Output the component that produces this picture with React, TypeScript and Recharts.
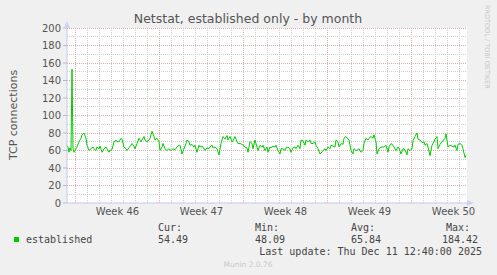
import { LineChart, Line, XAxis, YAxis, CartesianGrid, ReferenceLine } from "recharts";

// hours since the left edge of the graph (Sun Nov 9, ~07:00)
const sampleHours = [
  0, 2, 4, 6, 8, 10, 12, 14, 18, 20, 24, 28, 30, 34, 38, 40, 44, 48, 52, 54, 58, 60, 64, 66, 70, 74, 78, 80, 84, 86,
  90, 94, 98, 100, 104, 108, 110, 114, 118, 120, 124, 128, 130, 134, 136, 140, 144, 148, 150, 154, 156, 160, 164, 166,
  170, 174, 176, 180, 184, 186, 190, 192, 196, 200, 204, 208, 212, 216, 220, 224, 226, 230, 234, 238, 240, 244, 246,
  250, 254, 256, 260, 264, 266, 270, 272, 276, 280, 284, 286, 290, 292, 296, 300, 304, 308, 312, 316, 320, 322, 326,
  330, 332, 336, 340, 342, 346, 350, 352, 356, 360, 362, 366, 370, 372, 376, 380, 382, 386, 390, 392, 396, 400, 402,
  406, 408, 412, 416, 418, 422, 426, 428, 432, 436, 438, 442, 446, 448, 452, 456, 458, 462, 466, 468, 472, 476, 478,
  482, 486, 488, 492, 496, 498, 502, 506, 508, 512, 516, 518, 522, 526, 528, 532, 536, 538, 542, 544, 548, 552, 554,
  558, 562, 564, 568, 572, 574, 578, 582, 584, 588, 592, 594, 598, 602, 604, 608, 612, 614, 618, 620, 624, 628, 634,
  638, 642, 644, 648, 652, 654, 658, 662, 664, 668, 672, 674, 678, 680, 682, 686, 690, 692, 696, 700, 702, 706, 710,
  714, 716, 720, 722, 726, 730, 734, 736, 740, 742, 746, 750, 752, 756, 758, 762, 766, 770, 774, 776, 780, 782, 786,
  790, 792, 796, 798,
];

const established = [
  66, 64, 58, 63, 60, 153, 62, 58, 62, 64, 70, 74, 78, 80, 74, 66, 60, 62, 64, 62, 60, 64, 62, 65, 58, 62, 64, 62, 58, 60,
  61, 70, 72, 70, 70, 74, 73, 64, 62, 60, 63, 66, 68, 65, 62, 68, 74, 70, 72, 76, 72, 70, 72, 74,
  82, 76, 72, 74, 70, 60, 64, 68, 62, 60, 62, 60, 62, 61, 64, 66, 66, 56, 62, 68, 72, 70, 66,
  67, 64, 66, 58, 66, 64, 65, 64, 60, 63, 62, 64, 66, 63, 64, 62, 55, 68, 76, 73, 77, 72, 76,
  70, 71, 76, 70, 68, 68, 67, 66, 64, 63, 58, 70, 68, 62, 72, 64, 60, 66, 64, 66, 60, 64, 58,
  64, 63, 65, 64, 66, 60, 56, 62, 62, 60, 63, 64, 62, 58, 63, 64, 62, 66, 62, 72, 71, 66, 72,
  70, 72, 68, 68, 70, 66, 62, 56, 57, 60, 62, 60, 64, 62, 66, 65, 64, 72, 70, 64, 68, 67, 74,
  76, 73, 72, 60, 56, 62, 60, 61, 62, 58, 60, 68, 74, 72, 74, 76, 74, 78, 70, 56, 62, 64, 64,
  66, 58, 64, 68, 66, 64, 60, 64, 63, 56, 62, 62, 58, 55, 62, 60, 62, 71, 76, 80, 73, 72, 69,
  70, 66, 68, 64, 54, 66, 70, 73, 76, 62, 67, 70, 71, 74, 79, 64, 66, 65, 64, 66, 60, 67, 68,
  66, 62, 52, 54.49,
];

const weekLabels = ["Week 46", "Week 47", "Week 48", "Week 49", "Week 50"];
const weekMidHours = [101, 269, 437, 605, 773];
const weekStartHours = [17, 185, 353, 521, 689];
const dayHours = [41, 65, 89, 113, 137, 161, 209, 233, 257, 281, 305, 329, 377, 401, 425, 449, 473, 497, 545, 569, 593, 617, 641, 665, 713, 737, 761, 785];
const yTicks = [0, 20, 40, 60, 80, 100, 120, 140, 160, 180, 200];
const yMinor = [10, 30, 50, 70, 90, 110, 130, 150, 170, 190];

const legendStats = [
  { label: "Cur:", value: "54.49" },
  { label: "Min:", value: "48.09" },
  { label: "Avg:", value: "65.84" },
  { label: "Max:", value: "184.42" },
];

const data = sampleHours.map((h, i) => ({ h, v: established[i] }));

const sans = "DejaVu Sans, sans-serif";
const mono = "DejaVu Sans Mono, monospace";
const minorGrid = "#cfcfcf";
const majorGrid = "#e6acac";

export default function App() {
  return (
    <div style={{ position: "absolute", left: 0, top: 0, width: 497, height: 275, background: "#f0f0f0" }}>
      <LineChart width={497} height={275} data={data} margin={{ top: 28, right: 30, bottom: 52, left: 0 }}>
        <CartesianGrid
          fill="#ffffff"
          stroke={minorGrid}
          strokeDasharray="1 1"
          shapeRendering="crispEdges"
          horizontal={false}
          verticalValues={dayHours}
        />
        {yMinor.map((y) => (
          <ReferenceLine key={y} y={y} stroke={minorGrid} strokeDasharray="1 1" shapeRendering="crispEdges" ifOverflow="hidden" />
        ))}
        {yTicks.slice(1).map((y) => (
          <ReferenceLine key={"m" + y} y={y} stroke={majorGrid} strokeDasharray="1 1" shapeRendering="crispEdges" ifOverflow="hidden" />
        ))}
        <CartesianGrid
          stroke={majorGrid}
          strokeDasharray="1 1"
          shapeRendering="crispEdges"
          horizontal={false}
          verticalValues={weekStartHours}
        />
        <XAxis
          type="number"
          dataKey="h"
          domain={[0, 800]}
          ticks={weekMidHours}
          tickFormatter={(v: number) => weekLabels[weekMidHours.indexOf(v)]}
          tickSize={0}
          tickMargin={5}
          height={20}
          axisLine={{ stroke: "#c8c8f0" }}
          tick={{ fill: "#555", fontSize: 10, fontFamily: sans }}
        />
        <YAxis
          domain={[0, 200]}
          ticks={yTicks}
          width={67}
          tickSize={4}
          tickMargin={2}
          axisLine={{ stroke: "#c8c8f0" }}
          tickLine={{ stroke: "#bbb" }}
          tick={{ fill: "#555", fontSize: 10, fontFamily: sans }}
        />
        <Line type="linear" dataKey="v" stroke="#00cc00" strokeWidth={1} dot={false} isAnimationActive={false} />
      </LineChart>
      <svg width={497} height={275} style={{ position: "absolute", left: 0, top: 0, pointerEvents: "none" }}>
        <polygon points="64,28 70,28 67,21" fill="#d0d0f4" />
        <polygon points="467,200 467,206 474,203" fill="#d0d0f4" />
        <text x={248} y={23} textAnchor="middle" fontFamily={sans} fontSize={12.5} fill="#555">
          Netstat, established only - by month
        </text>
        <text x={0} y={0} transform="translate(17,115) rotate(-90)" textAnchor="middle" fontFamily={sans} fontSize={11} fill="#555">
          TCP connections
        </text>
        <text x={0} y={0} transform="translate(485,5) rotate(90)" fontFamily={sans} fontSize={6.5} fill="#c8c8c8">
          RRDTOOL / TOBI OETIKER
        </text>
        <rect x={14} y={237} width={5} height={5} fill="#00cc00" />
        <text x={26} y={243} fontFamily={mono} fontSize={10} fill="#444">established</text>
        {legendStats.map((s, i) => {
          const xs = [158, 255, 351, 478];
          const anchor = i === 3 ? "end" : "start";
          return (
            <g key={s.label}>
              <text x={i === 3 ? 470 : xs[i]} y={231} textAnchor={anchor} fontFamily={mono} fontSize={10} fill="#444">{s.label}</text>
              <text x={xs[i]} y={243} textAnchor={anchor} fontFamily={mono} fontSize={10} fill="#444">{s.value}</text>
            </g>
          );
        })}
        <text x={482} y={255} textAnchor="end" fontFamily={mono} fontSize={10} fill="#444">
          Last update: Thu Dec 11 12:40:00 2025
        </text>
        <text x={248} y={267} textAnchor="middle" fontFamily={sans} fontSize={7.5} fill="#c8c8c8">
          Munin 2.0.76
        </text>
      </svg>
    </div>
  );
}
